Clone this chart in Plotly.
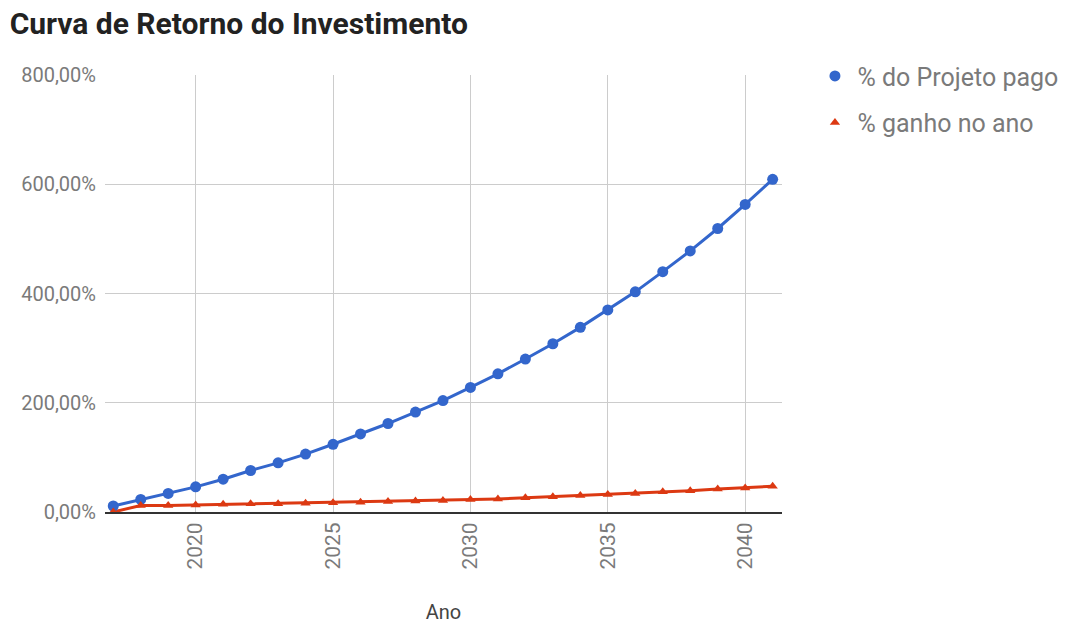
import plotly.graph_objects as go

# Anos do projeto
anos = list(range(2017, 2042))

# % do Projeto pago (acumulado)
projeto_pago = [11, 23, 34, 46, 60, 76, 90, 106, 124, 143, 162, 183, 204,
                228, 253, 280, 308, 338, 370, 403, 440, 478, 519, 563, 609]

# % ganho no ano
ganho_ano = [0, 12, 12, 13, 14, 15, 15, 16, 17, 18, 19, 20, 21,
             23, 24, 26, 28, 30, 32, 34, 37, 39, 42, 44, 47]

y_ticks = [0, 200, 400, 600, 800]
x_ticks = [2020, 2025, 2030, 2035, 2040]

AZUL = "#3366cc"
VERMELHO = "#dc3912"
FONTE = "Roboto, Arial, sans-serif"
CINZA = "#7a7a7a"


def pct_br(v):
    return f"{v:,.2f}%".replace(",", "X").replace(".", ",").replace("X", ".")


fig = go.Figure()

# linhas (sem legenda)
fig.add_trace(go.Scatter(x=anos, y=projeto_pago, mode="lines",
                         line=dict(color=AZUL, width=3), showlegend=False,
                         hoverinfo="skip"))
fig.add_trace(go.Scatter(x=anos, y=ganho_ano, mode="lines",
                         line=dict(color=VERMELHO, width=3), showlegend=False,
                         hoverinfo="skip"))

# marcadores (com legenda)
fig.add_trace(go.Scatter(x=anos, y=projeto_pago, mode="markers",
                         name="% do Projeto pago", legendgroup="a",
                         marker=dict(color=AZUL, size=11, symbol="circle")))
fig.add_trace(go.Scatter(x=anos, y=ganho_ano, mode="markers",
                         name="% ganho no ano", legendgroup="b",
                         marker=dict(color=VERMELHO, size=9,
                                     symbol="triangle-up")))

fig.update_layout(
    width=1072, height=624,
    margin=dict(l=105, r=290, t=75, b=112, autoexpand=False),
    paper_bgcolor="white", plot_bgcolor="white",
    font=dict(family=FONTE, color=CINZA),
    title=dict(text="<b>Curva de Retorno do Investimento</b>",
               x=0.009, xanchor="left", y=0.963, yanchor="middle",
               font=dict(family=FONTE, size=30, color="#222222")),
    legend=dict(x=1.045, xanchor="left", y=1.05, yanchor="top",
                traceorder="grouped", tracegroupgap=11, itemwidth=35,
                font=dict(family=FONTE, size=25, color=CINZA),
                bgcolor="rgba(0,0,0,0)"),
    showlegend=True,
)

fig.update_xaxes(
    range=[2016.7, 2041.34], automargin=False,
    tickvals=x_ticks, ticktext=[str(t) for t in x_ticks],
    tickangle=-90, ticklabelstandoff=0,
    tickfont=dict(size=21, color=CINZA),
    showgrid=True, gridcolor="#cccccc", gridwidth=1,
    zeroline=False, showline=True, linecolor="#333333", linewidth=2,
    title=dict(text="Ano", font=dict(size=20, color="#444444"), standoff=36),
)

fig.update_yaxes(
    range=[0, 800], automargin=False,
    tickvals=y_ticks, ticktext=[pct_br(t) for t in y_ticks],
    tickfont=dict(size=20, color=CINZA), ticklabelstandoff=8,
    showgrid=True, gridcolor="#cccccc", gridwidth=1,
    zeroline=False, showline=False,
)

fig.write_html("out.html")
